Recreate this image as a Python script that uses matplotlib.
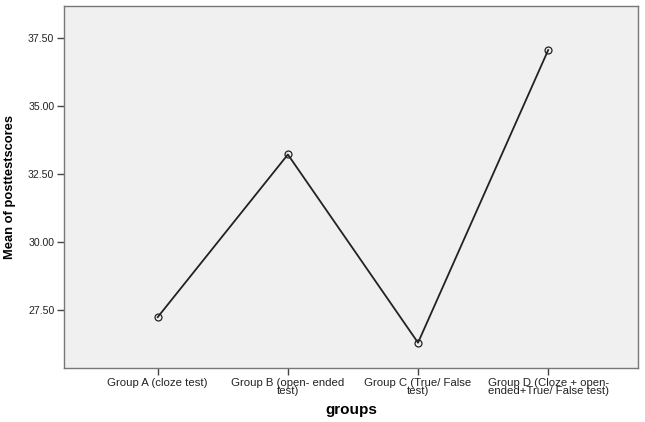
import matplotlib
matplotlib.use("Agg")
import matplotlib.pyplot as plt

groups = ["Group A (cloze test)", "Group B (open- ended\ntest)",
          "Group C (True/ False\ntest)", "Group D (Cloze + open-\nended+True/ False test)"]
means = [27.24, 33.22, 26.30, 37.06]
yticks = [27.5, 30.0, 32.5, 35.0, 37.5]

plt.rcParams["font.family"] = ["Liberation Sans", "DejaVu Sans"]

fig = plt.figure(figsize=(6.45, 4.22), dpi=100)
ax = fig.add_axes([64 / 645, 1 - 368 / 422, (638 - 64) / 645, (368 - 6) / 422])
ax.set_facecolor("#f0f0f0")

x = range(len(groups))
ax.plot(x, means, color="#222222", lw=1.3, marker="o", ms=5,
        mfc="none", mec="#222222", mew=0.9)

ax.set_xlim(-0.72, 3.69)
ax.set_ylim(25.37, 38.68)
ax.set_xticks(list(x))
ax.set_xticklabels(groups, fontsize=8.2, linespacing=0.75, multialignment="center",
                   color="#222222")
ax.set_yticks(yticks)
ax.set_yticklabels([f"{v:.2f}" for v in yticks], fontsize=7.6, color="#222222")
ax.tick_params(length=5, width=1, color="#444444", pad=2)

for s in ax.spines.values():
    s.set_color("#777777")
    s.set_linewidth(1)

ax.set_ylabel("Mean of posttestscores", fontsize=9.3, fontweight="bold", labelpad=9)
ax.set_xlabel("groups", fontsize=11, fontweight="bold", labelpad=5)

fig.savefig("out.png", dpi=100)
